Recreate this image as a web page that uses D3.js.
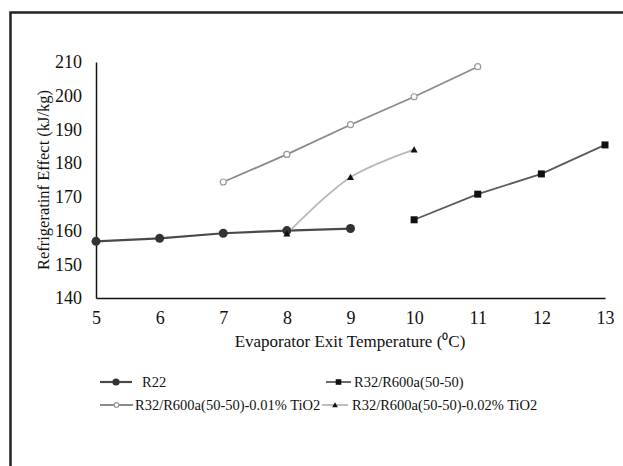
<!DOCTYPE html>
<html>
<head>
<meta charset="utf-8">
<script src="https://cdn.jsdelivr.net/npm/d3@7"></script>
<style>
  body { margin: 0; background: #fff; }
  svg { display: block; font-family: "Liberation Serif", "Times New Roman", serif; }
</style>
</head>
<body>
<div id="chart"></div>
<script>
// Data
const tempsR22 = [5, 6, 7, 8, 9];
const valuesR22 = [156.8, 157.7, 159.2, 160.0, 160.6];

const tempsR32 = [10, 11, 12, 13];
const valuesR32 = [163.2, 170.8, 176.8, 185.4];

const tempsTi01 = [7, 8, 9, 10, 11];
const valuesTi01 = [174.4, 182.6, 191.4, 199.7, 208.6];

const tempsTi02 = [8, 9, 10];
const valuesTi02 = [159.1, 175.8, 184.0];

const xTicks = [5, 6, 7, 8, 9, 10, 11, 12, 13];
const yTicks = [140, 150, 160, 170, 180, 190, 200, 210];

const seriesNames = [
    'R22',
    'R32/R600a(50-50)',
    'R32/R600a(50-50)-0.01% TiO2',
    'R32/R600a(50-50)-0.02% TiO2'
];

const W = 623, H = 466;
const plot = { left: 96, right: 605, top: 62, bottom: 298 };
const serif = '"Liberation Serif", "Times New Roman", serif';

const svg = d3.select('#chart').append('svg')
    .attr('width', W)
    .attr('height', H);

// outer frame (runs off the right and bottom edges)
svg.append('rect')
    .attr('x', 10.5)
    .attr('y', 12.5)
    .attr('width', 700)
    .attr('height', 600)
    .attr('fill', 'none')
    .attr('stroke', '#222')
    .attr('stroke-width', 2.5);

const x = d3.scaleLinear().domain([5, 13]).range([plot.left, plot.right]);
const y = d3.scaleLinear().domain([140, 210]).range([plot.bottom, plot.top]);

// axes
const xAxis = svg.append('g')
    .attr('transform', `translate(0,${plot.bottom})`)
    .call(d3.axisBottom(x).tickValues(xTicks).tickSize(0).tickPadding(13));
xAxis.select('.domain').attr('stroke', '#111').attr('stroke-width', 1.5);
xAxis.selectAll('text').attr('font-size', 18).attr('fill', '#111')
    .attr('font-family', serif);

const yAxis = svg.append('g')
    .attr('transform', `translate(${plot.left},0)`)
    .call(d3.axisLeft(y).tickValues(yTicks).tickSize(0).tickPadding(14));
yAxis.select('.domain').attr('stroke', '#111').attr('stroke-width', 1.5);
yAxis.selectAll('text').attr('font-size', 18).attr('fill', '#111')
    .attr('font-family', serif);

// axis titles
svg.append('text')
    .attr('x', 350)
    .attr('y', 347)
    .attr('text-anchor', 'middle')
    .attr('font-size', 17)
    .attr('fill', '#111')
    .text('Evaporator Exit Temperature (\u2070C)');

svg.append('text')
    .attr('transform', 'translate(49,180) rotate(-90)')
    .attr('text-anchor', 'middle')
    .attr('font-size', 16.5)
    .attr('fill', '#111')
    .text('Refrigeratinf Effect (kJ/kg)');

// series
const straight = d3.line().x(d => x(d[0])).y(d => y(d[1]));
const smooth = d3.line().x(d => x(d[0])).y(d => y(d[1])).curve(d3.curveCatmullRom);

const styles = [
    { color: '#4a4a4a', width: 2.2, marker: 'circle', line: straight },
    { color: '#5a5a5a', width: 1.8, marker: 'square', line: straight },
    { color: '#8a8a8a', width: 1.8, marker: 'open', line: straight },
    { color: '#b8b8b8', width: 1.8, marker: 'triangle', line: smooth }
];

const series = [
    d3.zip(tempsR22, valuesR22),
    d3.zip(tempsR32, valuesR32),
    d3.zip(tempsTi01, valuesTi01),
    d3.zip(tempsTi02, valuesTi02)
];

function drawMarker(g, kind, cx, cy, scale) {
    const s = scale || 1;
    if (kind === 'circle') {
        g.append('circle').attr('cx', cx).attr('cy', cy).attr('r', 4.5 * s).attr('fill', '#333');
    } else if (kind === 'square') {
        g.append('rect').attr('x', cx - 3.5 * s).attr('y', cy - 3.5 * s)
            .attr('width', 7 * s).attr('height', 7 * s).attr('fill', '#111');
    } else if (kind === 'open') {
        g.append('circle').attr('cx', cx).attr('cy', cy).attr('r', 3 * s)
            .attr('fill', '#fff').attr('stroke', '#999').attr('stroke-width', 1.2);
    } else if (kind === 'triangle') {
        const r = 3.5 * s;
        g.append('path')
            .attr('d', `M${cx},${cy - r}L${cx + r},${cy + r * 0.8}L${cx - r},${cy + r * 0.8}Z`)
            .attr('fill', '#111');
    }
}

series.forEach((pts, i) => {
    const st = styles[i];
    svg.append('path')
        .datum(pts)
        .attr('d', st.line)
        .attr('fill', 'none')
        .attr('stroke', st.color)
        .attr('stroke-width', st.width);
});
series.forEach((pts, i) => {
    const g = svg.append('g');
    pts.forEach(p => drawMarker(g, styles[i].marker, x(p[0]), y(p[1])));
});

// legend
const legendItems = [
    { x: 100, y: 382, lineLen: 32, gap: 10 },
    { x: 326, y: 382, lineLen: 25, gap: 3 },
    { x: 100, y: 405, lineLen: 33, gap: 2 },
    { x: 322, y: 405, lineLen: 26, gap: 4 }
];

legendItems.forEach((item, i) => {
    const st = styles[i];
    const g = svg.append('g');
    g.append('line')
        .attr('x1', item.x).attr('x2', item.x + item.lineLen)
        .attr('y1', item.y).attr('y2', item.y)
        .attr('stroke', st.color).attr('stroke-width', st.width);
    drawMarker(g, st.marker, item.x + item.lineLen / 2, item.y, 0.8);
    g.append('text')
        .attr('x', item.x + item.lineLen + item.gap)
        .attr('y', item.y + 5)
        .attr('font-size', 14.5)
        .attr('fill', '#111')
        .text(seriesNames[i]);
});
</script>
</body>
</html>
